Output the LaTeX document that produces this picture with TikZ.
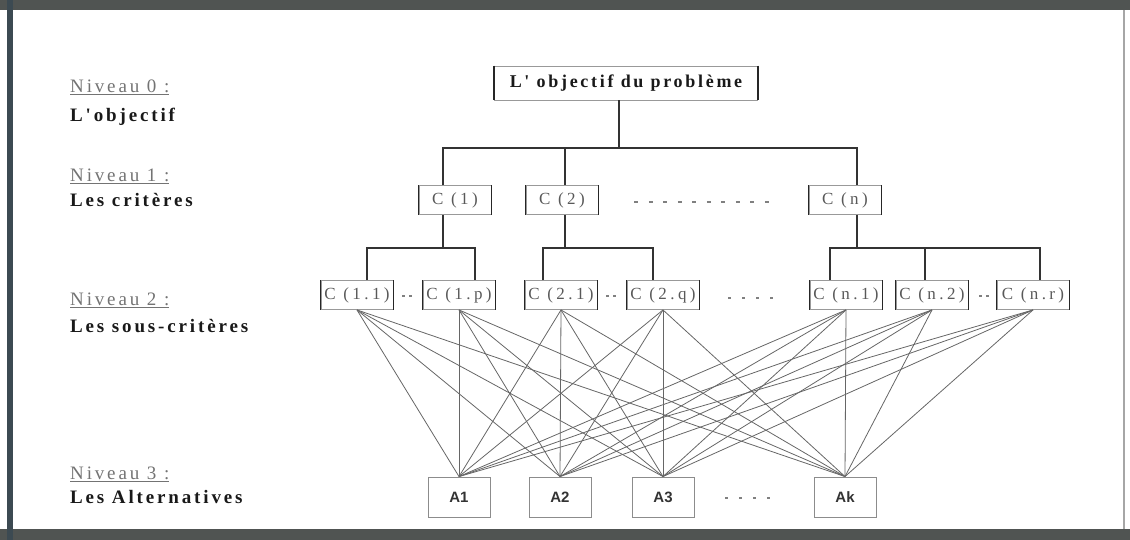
\documentclass[tikz,border=0pt]{standalone}
\usepackage{fontspec}
\setmainfont{Liberation Serif}
\newfontfamily\lvlfont[LetterSpace=15]{Liberation Serif}
\newfontfamily\boxfont[LetterSpace=20]{Liberation Serif}
\newfontfamily\altfont{Liberation Sans}
\usetikzlibrary{calc}
\definecolor{frameband}{HTML}{505452}
\definecolor{frameleft}{HTML}{3C4A52}
\tikzset{
  hier/.style={draw=black!80, line width=1.6pt},
  fan/.style={draw=black!60, line width=0.8pt},
  sidebar/.style={draw=black!85, line width=1.6pt},
  sepmark/.style={draw=black!50, line width=1.2pt},
  lvlhead/.style={anchor=west, inner sep=0pt, text=black!55,
    font=\lvlfont\fontsize{19}{21}\selectfont},
  lvlname/.style={anchor=west, inner sep=0pt, text=black!90,
    font=\lvlfont\bfseries\fontsize{19}{21}\selectfont},
  objbox/.style={draw=black!40, fill=white, line width=0.9pt,
    minimum width=263, minimum height=34, inner sep=1pt, text=black!90,
    font=\lvlfont\bfseries\fontsize{18}{20}\selectfont},
  cbox/.style={draw=black!40, fill=white, line width=0.9pt,
    minimum width=72, minimum height=29, inner sep=1pt, text=black!65,
    font=\boxfont\fontsize{17}{19}\selectfont},
  abox/.style={draw=black!45, fill=white, line width=0.9pt,
    minimum width=62, minimum height=40, inner sep=1pt, text=black!80,
    font=\altfont\bfseries\fontsize{15}{17}\selectfont}
}
\begin{document}
\begin{tikzpicture}[x=1pt,y=-1pt]
\useasboundingbox (0,0) rectangle (1130,540);

% frame of the figure
\fill[frameband] (0,0) rectangle (1130,10);
\fill[frameband] (0,529) rectangle (1130,540);
\fill[frameleft] (7,0) rectangle (13,540);
\draw[black!35, line width=1.5pt] (1124,10) -- (1124,529);

% level captions
\node[lvlhead] (n0) at (70,87)  {\underline{Niveau 0 :}};
\node[lvlname] (l0) at (70,117) {L'objectif};
\node[lvlhead] (n1) at (70,176) {\underline{Niveau 1 :}};
\node[lvlname] (l1) at (70,200) {Les critères};
\node[lvlhead] (n2) at (70,300) {\underline{Niveau 2 :}};
\node[lvlname] (l2) at (70,326) {Les sous-critères};
\node[lvlhead] (n3) at (70,474) {\underline{Niveau 3 :}};
\node[lvlname] (l3) at (70,497) {Les Alternatives};

% goal
\node[objbox] (obj) at (626,83) {L' objectif du problème};

% criteria
\node[cbox] (c1) at (455,200) {C (1)};
\node[cbox] (c2) at (562,200) {C (2)};
\node[cbox] (cn) at (845,200) {C (n)};

% sub-criteria
\node[cbox] (c11) at (357,295) {C (1.1)};
\node[cbox] (c1p) at (459,295) {C (1.p)};
\node[cbox] (c21) at (561,295) {C (2.1)};
\node[cbox] (c2q) at (663,295) {C (2.q)};
\node[cbox] (cn1) at (846,295) {C (n.1)};
\node[cbox] (cn2) at (932,295) {C (n.2)};
\node[cbox] (cnr) at (1033,295) {C (n.r)};

% alternatives
\node[abox] (a1) at (459,497) {A1};
\node[abox] (a2) at (560,497) {A2};
\node[abox] (a3) at (663,497) {A3};
\node[abox] (ak) at (845,497) {Ak};

% darker vertical sides of the boxes
\foreach \n in {obj,c1,c2,cn,c11,c1p,c21,c2q,cn1,cn2,cnr}
  \draw[sidebar] (\n.north west) -- (\n.south west)
                 (\n.north east) -- (\n.south east);

% goal -> criteria
\coordinate (j0) at (619,148);
\coordinate (b1l) at (443,148);
\coordinate (b1m) at (565,148);
\coordinate (b1r) at (857,148);
\draw[hier] (obj.south -| j0) -- (j0);
\draw[hier] (c1.north -| b1l) -- (b1l) -- (b1r) -- (cn.north -| b1r);
\draw[hier] (b1m) -- (c2.north -| b1m);

% criteria -> sub-criteria
\coordinate (g1) at (443,248);
\coordinate (g1l) at (367,248);
\coordinate (g1r) at (475,248);
\draw[hier] (c1.south -| g1) -- (g1);
\draw[hier] (c11.north -| g1l) -- (g1l) -- (g1r) -- (c1p.north -| g1r);

\coordinate (g2) at (565,248);
\coordinate (g2l) at (543,248);
\coordinate (g2r) at (653,248);
\draw[hier] (c2.south -| g2) -- (g2);
\draw[hier] (c21.north -| g2l) -- (g2l) -- (g2r) -- (c2q.north -| g2r);

\coordinate (gn) at (857,248);
\coordinate (gnl) at (830,248);
\coordinate (gnm) at (925,248);
\coordinate (gnr) at (1040,248);
\draw[hier] (cn.south -| gn) -- (gn);
\draw[hier] (cn1.north -| gnl) -- (gnl) -- (gnr) -- (cnr.north -| gnr);
\draw[hier] (gnm) -- (cn2.north -| gnm);

% every sub-criterion is linked to every alternative
\foreach \s in {c11,c1p,c21,c2q,cn1,cn2,cnr}
  \foreach \a in {a1,a2,a3,ak}
    \draw[fan] (\s.south) -- (\a.north);

% ellipsis marks
\draw[sepmark, dash pattern=on 4pt off 10.5pt] ($(c2.east)+(36,2)$) -- ($(cn.west)+(-38,2)$);
\draw[sepmark, dash pattern=on 3pt off 4pt] ($(c11.east)+(9,1)$) -- ($(c1p.west)+(-10,1)$);
\draw[sepmark, dash pattern=on 3pt off 4pt] ($(c21.east)+(9,1)$) -- ($(c2q.west)+(-10,1)$);
\draw[sepmark, dash pattern=on 3pt off 11pt] ($(c2q.east)+(29,3)$) -- ($(cn1.west)+(-35,3)$);
\draw[sepmark, dash pattern=on 3pt off 4pt] ($(cn2.east)+(11,1)$) -- ($(cnr.west)+(-7,1)$);
\draw[sepmark, dash pattern=on 3pt off 11pt] ($(a3.east)+(31,1)$) -- ($(ak.west)+(-39,1)$);
\end{tikzpicture}
\end{document}
